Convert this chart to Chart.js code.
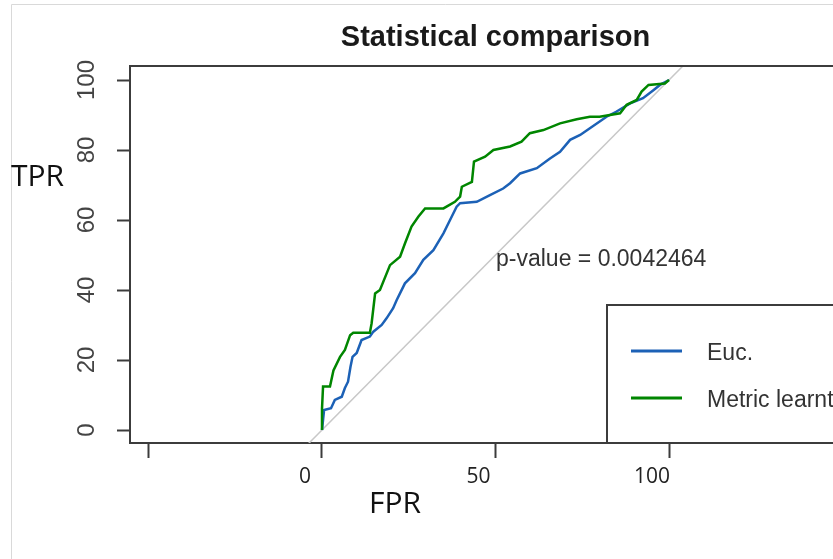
<!DOCTYPE html>
<html>
<head>
<meta charset="utf-8">
<script src="https://cdn.jsdelivr.net/npm/chart.js@4.4.1/dist/chart.umd.min.js"></script>
<style>
    html, body { margin: 0; padding: 0; background: #fff; overflow: hidden; }
    #wrap { position: absolute; left: 0; top: 0; width: 880px; height: 559px; }
</style>
</head>
<body>
<div id="wrap"><canvas id="roc" width="880" height="559"></canvas></div>
<script>
// values (FPR / TPR in %)
const fprEuc = [0, 0.6, 2.6, 3.7, 5.7, 6.6, 7.5, 8.2, 8.8, 10, 11.4, 13.8, 14.8, 17.2, 18.6, 20.5, 21.5, 23.9, 26.8, 29.2, 32.1, 35, 36.9, 38.8, 39.8, 44.6, 48.4, 52.2, 54.2, 57.1, 61.9, 65.7, 68.6, 71.5, 74.4, 77.2, 82, 84.9, 88.8, 92.5, 95.5, 97.4, 100];
const tprEuc = [0, 5.7, 6.2, 8.6, 9.5, 12, 13.8, 18, 20.9, 22, 25.7, 26.7, 28.1, 30, 31.9, 34.8, 37.1, 41.9, 44.8, 48.6, 51.4, 56.2, 60, 63.8, 64.8, 65.2, 67.1, 69, 70.5, 73.3, 74.8, 77.6, 79.5, 82.9, 84.3, 86.2, 89.5, 91, 93.3, 94.8, 97.1, 98.6, 100];

const fprMetric = [0, 0, 0.3, 2.3, 3.3, 5.2, 6.6, 8.1, 9, 13.8, 14.3, 15.3, 16.7, 19.6, 22.5, 23.9, 25.8, 27.8, 29.7, 35, 38.3, 39.8, 40.3, 43.2, 43.8, 47, 49.4, 54.2, 57.5, 59.9, 63.8, 68.6, 73.4, 77.2, 80, 85.9, 87.8, 90.7, 92.1, 94.1, 98.8, 100];
const tprMetric = [0, 6, 12.4, 12.4, 17, 20.9, 22.9, 27.1, 27.8, 27.8, 30.5, 39, 40, 47.1, 49.5, 53.3, 58.1, 61, 63.3, 63.3, 65.2, 66.7, 69.5, 70.9, 76.7, 78.1, 80, 81, 82.4, 84.8, 85.7, 87.6, 88.8, 89.5, 89.5, 90.5, 92.9, 94.3, 96.7, 98.6, 99, 100];

const seriesNames = ['Euc.', 'Metric learnt'];
const chanceLine = [-10, 110];

const yTicks = [0, 20, 40, 60, 80, 100];
const xTicks = [-50, 0, 50, 100, 150];
const xTickLabels = { 0: '0', 50: '50', 100: '100' };

const titleText = 'Statistical comparison';
const pValueText = 'p-value = 0.0042464';

function toPoints(xs, ys) {
    return xs.map((x, i) => ({ x: x, y: ys[i] }));
}

const AXIS = '#3c3c3c';
const ARIAL = '"Liberation Sans", Arial, sans-serif';
const CALIBRI = '"Open Sans", sans-serif';

const decorations = {
    id: 'decorations',
    beforeDraw(chart) {
        const ctx = chart.ctx;
        ctx.save();
        ctx.strokeStyle = '#d9d9d9';
        ctx.lineWidth = 1;
        ctx.beginPath();
        ctx.moveTo(11.5, 559);
        ctx.lineTo(11.5, 4.5);
        ctx.lineTo(880, 4.5);
        ctx.stroke();
        ctx.restore();
    },
    afterDraw(chart) {
        const ctx = chart.ctx;
        const a = chart.chartArea;
        ctx.save();

        // box top
        ctx.strokeStyle = AXIS;
        ctx.lineWidth = 2;
        ctx.beginPath();
        ctx.moveTo(a.left - 1, a.top);
        ctx.lineTo(a.right, a.top);
        ctx.stroke();

        // legend
        ctx.fillStyle = '#fff';
        ctx.fillRect(607, 305, 300, a.bottom - 305);
        ctx.strokeRect(607, 305, 300, a.bottom - 305);
        const rows = [351, 398];
        ctx.font = '23px ' + ARIAL;
        ctx.textBaseline = 'middle';
        ctx.textAlign = 'left';
        [0, 1].forEach(i => {
            const ds = chart.data.datasets[i];
            ctx.strokeStyle = ds.borderColor;
            ctx.lineWidth = 3;
            ctx.beginPath();
            ctx.moveTo(631, rows[i]);
            ctx.lineTo(682, rows[i]);
            ctx.stroke();
            ctx.fillStyle = '#333';
            ctx.fillText(ds.label, 707, rows[i] + 3);
        });

        // p-value
        ctx.fillStyle = '#333';
        ctx.textBaseline = 'alphabetic';
        ctx.fillText(pValueText, 496, 266);

        // axis names
        ctx.fillStyle = '#111';
        ctx.font = '30px ' + CALIBRI;
        ctx.fillText('TPR', 11, 186);
        ctx.fillText('FPR', 369, 513);
        ctx.restore();
    }
};

new Chart(document.getElementById('roc'), {
    type: 'line',
    data: {
        datasets: [
            {
                label: seriesNames[0],
                data: toPoints(fprEuc, tprEuc),
                borderColor: '#1c61b6',
                borderWidth: 2.5,
                pointRadius: 0,
                order: 2
            },
            {
                label: seriesNames[1],
                data: toPoints(fprMetric, tprMetric),
                borderColor: '#008600',
                borderWidth: 2.5,
                pointRadius: 0,
                order: 1
            },
            {
                label: 'chance',
                data: toPoints(chanceLine, chanceLine),
                borderColor: '#c8c8c8',
                borderWidth: 1.5,
                pointRadius: 0,
                order: 3
            }
        ]
    },
    options: {
        responsive: false,
        animation: false,
        layout: { padding: { left: 0, right: 19, top: 0, bottom: 0 } },
        plugins: {
            legend: { display: false },
            tooltip: { enabled: false },
            title: {
                display: true,
                text: titleText,
                fullSize: false,
                color: '#1a1a1a',
                font: { family: ARIAL, size: 29, weight: 'bold', lineHeight: 1.2 },
                padding: { top: 21, bottom: 10.2 }
            }
        },
        scales: {
            x: {
                type: 'linear',
                min: -55.33,
                max: 155.33,
                afterBuildTicks: (s) => { s.ticks = xTicks.map(v => ({ value: v })); },
                afterFit: (s) => { s.height = 116; },
                grid: { drawOnChartArea: false, drawTicks: true, tickLength: 15, tickWidth: 2, tickColor: AXIS },
                border: { display: true, color: AXIS, width: 2 },
                ticks: {
                    autoSkip: false,
                    maxRotation: 0,
                    padding: 6,
                    labelOffset: -17,
                    color: '#222',
                    font: { family: CALIBRI, size: 21 },
                    callback: (v) => xTickLabels[v] || ''
                }
            },
            y: {
                type: 'linear',
                min: -3.714,
                max: 104,
                afterBuildTicks: (s) => { s.ticks = yTicks.map(v => ({ value: v })); },
                afterFit: (s) => { s.width = 130; },
                grid: { drawOnChartArea: false, drawTicks: true, tickLength: 13, tickWidth: 2, tickColor: AXIS },
                border: { display: true, color: AXIS, width: 2 },
                ticks: {
                    autoSkip: false,
                    minRotation: 90,
                    maxRotation: 90,
                    crossAlign: 'center',
                    padding: 9.5,
                    color: '#444',
                    font: { family: ARIAL, size: 24 }
                }
            }
        }
    },
    plugins: [decorations]
});
</script>
</body>
</html>
